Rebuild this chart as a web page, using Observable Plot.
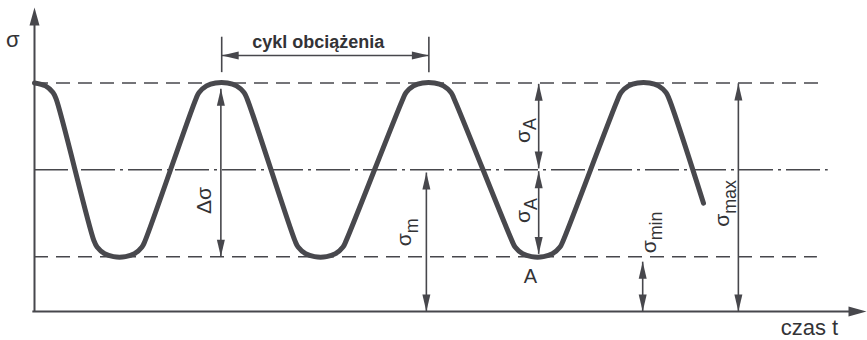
<!DOCTYPE html>
<html>
<head>
<meta charset="utf-8">
<script src="https://cdn.jsdelivr.net/npm/d3@7"></script>
<script src="https://cdn.jsdelivr.net/npm/@observablehq/plot@0.6"></script>
<style>
  html, body { margin: 0; padding: 0; background: #fff; }
  #chart svg { display: block; }
</style>
</head>
<body>
<div id="chart"></div>
<script>
// Stress levels, in percent of the maximum stress
const sigmaMax = 100;
const sigmaMin = 24;
const sigmaMean = 62;

// Load history: time (arbitrary units) and stress
const curveT = [0, 1.32, 2.22, 2.60,
  7.14, 7.52, 8.42, 9.50, 10.94, 12.02, 12.92, 13.30,
  19.40, 19.78, 20.68, 21.76, 23.20, 24.28, 25.18, 25.56,
  31.30, 31.68, 32.58, 33.66, 35.10, 36.18, 37.08, 37.46,
  44.28, 44.66, 45.56, 46.64, 48.08, 49.16, 50.06, 50.44,
  57.38, 57.76, 58.66, 59.74, 61.18, 62.26, 63.16, 63.54,
  70.12, 70.50, 71.40, 72.48, 73.92, 75.00, 75.90, 76.28,
  80.41];
const curveS = [100, 98.7, 95.8, 93,
  31, 28.2, 25.3, 24, 24, 25.3, 28.2, 31,
  93, 95.8, 98.7, 100, 100, 98.7, 95.8, 93,
  31, 28.2, 25.3, 24, 24, 25.3, 28.2, 31,
  93, 95.8, 98.7, 100, 100, 98.7, 95.8, 93,
  31, 28.2, 25.3, 24, 24, 25.3, 28.2, 31,
  93, 95.8, 98.7, 100, 100, 98.7, 95.8, 93,
  47.4];

// One load cycle, peak to peak
const cycleT = [22.5, 47.4];
const cycleS = 112;

// Dimension arrows: position in time, start and end stress
const arrowT    = [22.4, 60.6, 60.6, 47.1, 73.1, 84.6];
const arrowFrom = [24,   62.6, 61.4, 0,    0,    0];
const arrowTo   = [97.5, 99.6, 25.2, 60.8, 21.8, 99.8];

// Rotated quantity labels (base symbol + subscript)
const qtyBase = ["Δσ", "σ", "σ", "σ", "σ", "σ"];
const qtySub  = ["", "A", "A", "m", "min", "max"];
const qtyT    = [20.4, 58.7, 58.8, 44.5, 73.9, 82.7];
const qtyS    = [48.6, 79.2, 44.2, 34.6, 34.6, 47.3];

// Axis extents
const tEnd = 100;
const sTop = 133;

const ink = "#47474c";
const textInk = "#333336";

const curve = curveT.map((t, i) => ({t, s: curveS[i]}));
const arrows = arrowT.map((t, i) => ({t, from: arrowFrom[i], to: arrowTo[i]}));
const heads = arrows.flatMap(a => [
  {t: a.t, s: a.from, r: a.from > a.to ? 0 : 180},
  {t: a.t, s: a.to, r: a.to > a.from ? 0 : 180}
]).concat([
  {t: cycleT[0], s: cycleS, r: 270},
  {t: cycleT[1], s: cycleS, r: 90}
]);
const axisTips = [{t: 0, s: sTop, r: 0}, {t: tEnd, s: 0, r: 90}];
const quantities = qtyBase.map((b, i) => ({b, sub: qtySub[i], t: qtyT[i], s: qtyS[i]}));

// Narrow filled arrowheads, tip at the origin pointing up
const head = {draw(ctx) { ctx.moveTo(0, 0); ctx.lineTo(-4, 17); ctx.lineTo(4, 17); ctx.closePath(); }};
const bigHead = {draw(ctx) { ctx.moveTo(0, 0); ctx.lineTo(-5, 18); ctx.lineTo(5, 18); ctx.closePath(); }};

const plot = Plot.plot({
  width: 867,
  height: 340,
  marginTop: 7,
  marginBottom: 29,
  marginLeft: 34,
  marginRight: 1,
  x: {domain: [0, tEnd], axis: null},
  y: {domain: [0, sTop], axis: null},
  style: {fontFamily: "'Liberation Sans', Arial, sans-serif", background: "#fff", overflow: "visible"},
  marks: [
    // reference levels
    Plot.ruleY([sigmaMax], {x1: 0, x2: 94.4, stroke: ink, strokeWidth: 1.5, strokeDasharray: "14,8"}),
    Plot.ruleY([sigmaMin], {x1: 0, x2: 94.1, stroke: ink, strokeWidth: 1.5, strokeDasharray: "14,8"}),
    Plot.ruleY([sigmaMean], {x1: 0, x2: 95.4, stroke: ink, strokeWidth: 1.4, strokeDasharray: "34,5,3,5"}),
    // axes
    Plot.ruleX([0], {y1: -0.3, y2: sTop - 4, stroke: ink, strokeWidth: 2}),
    Plot.ruleY([0], {x1: -0.2, x2: tEnd - 1, stroke: ink, strokeWidth: 2}),
    Plot.dot(axisTips, {x: "t", y: "s", rotate: "r", symbol: bigHead, fill: ink, stroke: null}),
    // load cycle span
    Plot.ruleX(cycleT, {y1: 104.5, y2: 120, stroke: ink, strokeWidth: 1.6}),
    Plot.link([{a: cycleT[0], b: cycleT[1]}], {x1: "a", x2: "b", y1: cycleS, y2: cycleS, stroke: ink, strokeWidth: 1.6}),
    // dimension arrows
    Plot.link(arrows, {x1: "t", x2: "t", y1: "from", y2: "to", stroke: ink, strokeWidth: 1.6}),
    Plot.dot(heads, {x: "t", y: "s", rotate: "r", symbol: head, fill: ink, stroke: null}),
    // stress history
    Plot.line(curve, {x: "t", y: "s", curve: "catmull-rom", stroke: "#48484d", strokeWidth: 5,
      strokeLinecap: "round", strokeLinejoin: "round"}),
    // labels
    Plot.text(quantities, {x: "t", y: "s", text: d => d.b + d.sub, rotate: -90, fontSize: 21, fill: textInk}),
    Plot.text(["A"], {x: 59.6, y: 15.3, text: d => d, fontSize: 20, fill: textInk}),
    Plot.text(["σ"], {x: -2.6, y: 119, text: d => d, fontSize: 22, fill: textInk}),
    Plot.text(["czas t"], {x: 96.6, y: -7.0, text: d => d, textAnchor: "end", fontSize: 22, fill: textInk}),
    Plot.text(["cykl obciążenia"], {x: 34.1, y: 117.7, text: d => d, fontSize: 18, fontWeight: "bold", fill: textInk})
  ]
});

// Turn the trailing part of each quantity label into a subscript
const subs = new Map(quantities.filter(q => q.sub).map(q => [q.b + q.sub, q]));
d3.select(plot).selectAll("text").each(function () {
  const q = subs.get(this.textContent);
  if (!q) return;
  const el = d3.select(this);
  el.text(null);
  el.append("tspan").text(q.b);
  el.append("tspan").attr("dy", "0.35em").attr("font-size", "0.85em").text(q.sub);
});

document.getElementById("chart").append(plot);
</script>
</body>
</html>
